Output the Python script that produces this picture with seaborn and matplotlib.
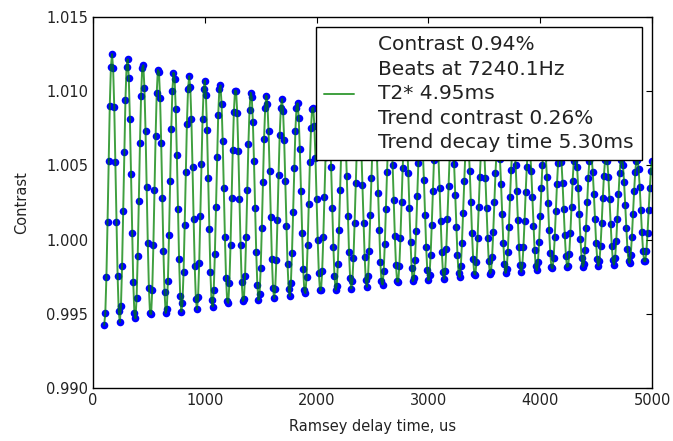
import numpy as np
import pandas as pd
import seaborn as sns
import matplotlib
matplotlib.use("Agg")
import matplotlib.pyplot as plt
from matplotlib.ticker import FormatStrFormatter

# fit parameters, as printed in the legend
contrast = 0.0094          # 0.94 %
beat_freq_hz = 7240.1
t2_star_us = 4950.0        # 4.95 ms
trend_contrast = 0.0026    # 0.26 %
trend_decay_us = 5300.0    # 5.30 ms

baseline = 1.0009          # level the trend decays to
first_peak_us = 170.0      # position of the first fringe maximum
t_start_us = 100
t_stop_us = 5000
t_step_us = 10             # Ramsey delay step of the scan

legend_label = ("Contrast 0.94%\n"
                "Beats at 7240.1Hz\n"
                "T2* 4.95ms\n"
                "Trend contrast 0.26%\n"
                "Trend decay time 5.30ms")


def ramsey(t):
    trend = trend_contrast * np.exp(-t / trend_decay_us)
    fringe = contrast * np.exp(-t / t2_star_us) * np.cos(
        2 * np.pi * beat_freq_hz * 1e-6 * (t - first_peak_us))
    return baseline + trend + fringe


t = np.arange(t_start_us, t_stop_us + t_step_us, t_step_us)
df = pd.DataFrame({"t": t, "contrast": ramsey(t)})

sns.set_style("white")
plt.rcParams["font.family"] = ["DejaVu Sans"]

fig = plt.figure(figsize=(6.73, 4.41), dpi=100)
ax = fig.add_axes([93 / 673, 1 - 388 / 441, (652 - 93) / 673, (388 - 17) / 441])

sns.scatterplot(data=df, x="t", y="contrast", ax=ax, color="b",
                edgecolor="b", s=30, linewidth=0, zorder=2, legend=False)
sns.lineplot(data=df, x="t", y="contrast", ax=ax, color="g", alpha=0.75,
             lw=1.4, estimator=None, sort=False, zorder=3, label=legend_label)

ax.set_xlim(0, 5000)
ax.set_ylim(0.990, 1.015)
ax.set_xticks(np.arange(0, 5001, 1000))
ax.set_yticks(np.arange(0.990, 1.0151, 0.005))
ax.yaxis.set_major_formatter(FormatStrFormatter("%.3f"))
ax.tick_params(direction="in", length=4, width=0.8, top=True, right=True,
               labelsize=10.5, colors="black", labelcolor="#222222")
for sp in ax.spines.values():
    sp.set_color("black")
    sp.set_linewidth(1.0)

ax.set_xlabel("Ramsey delay time, us", fontsize=10.5, color="#222222", labelpad=8)
ax.set_ylabel("Contrast", fontsize=10.5, color="#222222", labelpad=12)

leg = ax.legend(loc="upper right", fontsize=14.5, frameon=True, fancybox=False,
                framealpha=1, edgecolor="black", handlelength=1.5,
                handletextpad=1.2, borderaxespad=0.5)
leg.get_frame().set_linewidth(1.0)
for txt in leg.get_texts():
    txt.set_color("#222222")
    txt.set_linespacing(1.37)

fig.savefig("out.png", dpi=100)
